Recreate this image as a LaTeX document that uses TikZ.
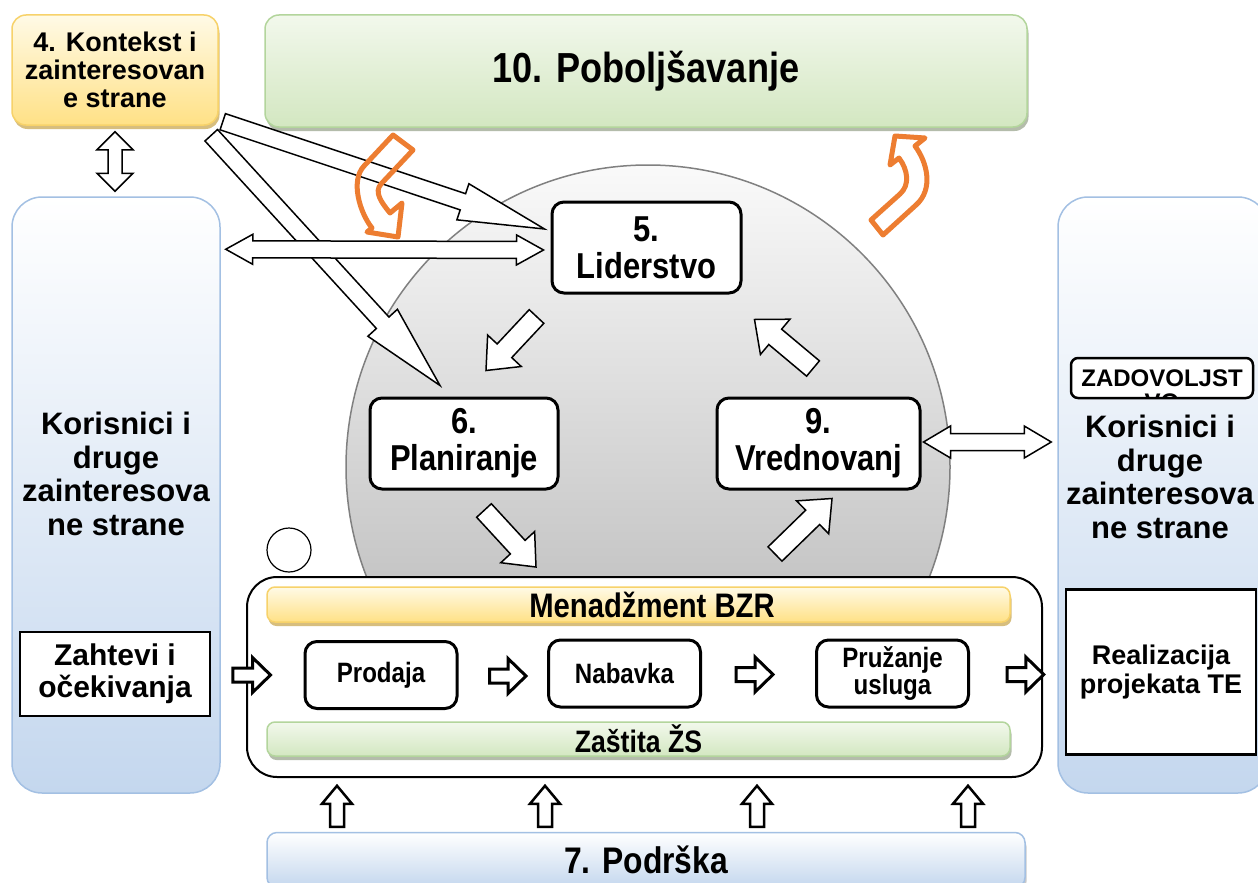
\documentclass[tikz,border=0pt]{standalone}
\usepackage{fontspec}
\setmainfont{Liberation Sans}
\newfontfamily\condfont[FakeStretch=0.86]{Liberation Sans}
\usepackage{xcolor}
\usepackage{tikz}
\usetikzlibrary{positioning,calc,shadows}

\definecolor{ylwtop}{HTML}{FFFAE6}
\definecolor{ylwbot}{HTML}{FFE186}
\definecolor{ylwline}{HTML}{F7D26A}
\definecolor{ylwshadow}{HTML}{CDAE5E}
\definecolor{grntop}{HTML}{F2F8EC}
\definecolor{grnbot}{HTML}{D3E7C1}
\definecolor{grnline}{HTML}{B3D59C}
\definecolor{grnshadow}{HTML}{A2AC96}
\definecolor{blutop}{HTML}{FFFFFF}
\definecolor{blubot}{HTML}{C4D7EE}
\definecolor{bluline}{HTML}{A3C0E3}
\definecolor{swirlorange}{HTML}{ED7D31}

% hollow block arrow: from, to, half shaft, half head, head length
\newcommand{\blockarrow}[6][]{%
  \coordinate (ba-h) at ($(#3)!#6!(#2)$);
  \draw[hollow,#1] ($(#2)!#4!90:(#3)$) -- ($(ba-h)!#4!-90:(#2)$)
    -- ($(ba-h)!#5!-90:(#2)$) -- (#3) -- ($(ba-h)!#5!90:(#2)$)
    -- ($(ba-h)!#4!90:(#2)$) -- ($(#2)!#4!-90:(#3)$) -- cycle;}
% hollow block arrow with two heads
\newcommand{\dblockarrow}[6][]{%
  \coordinate (ba-a) at ($(#2)!#6!(#3)$);
  \coordinate (ba-b) at ($(#3)!#6!(#2)$);
  \draw[hollow,#1] (#2) -- ($(ba-a)!#5!90:(#3)$) -- ($(ba-a)!#4!90:(#3)$)
    -- ($(ba-b)!#4!-90:(#2)$) -- ($(ba-b)!#5!-90:(#2)$) -- (#3)
    -- ($(ba-b)!#5!90:(#2)$) -- ($(ba-b)!#4!90:(#2)$)
    -- ($(ba-a)!#4!-90:(#3)$) -- ($(ba-a)!#5!-90:(#3)$) -- cycle;}

\begin{document}
\begin{tikzpicture}[x=1pt, y=-1pt,
  every node/.style={inner sep=0pt, align=center},
  gradbox/.style={draw, line width=1.5pt, rounded corners=14pt},
  ylwbox/.style={gradbox, draw=ylwline, top color=ylwtop, bottom color=ylwbot,
    drop shadow={shadow xshift=1.5pt, shadow yshift=-4pt, fill=ylwshadow, opacity=0.8}},
  grnbox/.style={gradbox, draw=grnline, top color=grntop, bottom color=grnbot,
    drop shadow={shadow xshift=1.5pt, shadow yshift=-4pt, fill=grnshadow, opacity=0.8}},
  blubox/.style={gradbox, draw=bluline, top color=blutop, bottom color=blubot},
  stepbox/.style={draw, line width=3pt, rounded corners=12pt, fill=white, minimum height=91pt,
    font=\condfont\bfseries\fontsize{36}{37}\selectfont},
  procbox/.style={draw, line width=3pt, rounded corners=12pt, fill=white, minimum width=152pt,
    minimum height=67pt, font=\condfont\bfseries\fontsize{28}{27}\selectfont},
  plainbox/.style={draw, fill=white},
  sidetext/.style={font=\bfseries\fontsize{31}{33.5}\selectfont},
  hollow/.style={draw, line width=1.5pt, fill=white},
  flow/.style={hollow, line width=3pt},
  swirl/.style={draw=swirlorange, line width=5pt, line join=round}
]
\fill[white] (0,0) rectangle (1258,883);
\useasboundingbox (0,0) rectangle (1258,883);

% Context and improvement
\node[ylwbox, minimum width=206pt, minimum height=110pt,
  font=\bfseries\fontsize{27}{28}\selectfont] (ctx) at (115,70) {4. Kontekst i\\zainteresovan\\e strane};
\node[grnbox, minimum width=762pt, minimum height=112pt,
  font=\condfont\bfseries\fontsize{42}{44}\selectfont] (pob) at (646,71) {10. Poboljšavanje};

% Interested parties, input and output
\node[blubox, rounded corners=30pt, minimum width=208pt, minimum height=596pt] (ulaz) at (116,495) {};
\node[blubox, rounded corners=30pt, minimum width=210pt, minimum height=596pt] (izlaz) at (1163,495) {};
\node[sidetext] (ulaztxt) at (116,474) {Korisnici i\\druge\\zainteresova\\ne strane};
\node[sidetext] (izlaztxt) at (1160,477) {Korisnici i\\druge\\zainteresova\\ne strane};
\node[plainbox, line width=1.5pt, minimum width=190pt, minimum height=84pt,
  font=\bfseries\fontsize{30}{32}\selectfont] (zah) at (115,674) {Zahtevi i\\očekivanja};
\node[plainbox, line width=2.5pt, minimum width=190pt, minimum height=165pt,
  font=\bfseries\fontsize{27}{29}\selectfont] (real) at (1161,672) {Realizacija\\projekata TE};

% Satisfaction label, text cut by its box
\node[plainbox, line width=2.5pt, rounded corners=7pt, minimum width=182pt, minimum height=40pt] (zad) at (1162,378) {};
\begin{scope}
  \clip ($(zad.south west)+(1.25,-1.25)$) rectangle ($(zad.north east)+(-1.25,1.25)$);
  \node[anchor=base, font=\bfseries\fontsize{24}{26}\selectfont] (zadtxt) at (1162,386) {ZADOVOLJST};
  \node[anchor=base, font=\bfseries\fontsize{24}{26}\selectfont] (zadvo) at (1162,410) {VO};
\end{scope}

% PDCA circle
\node[circle, draw=gray, line width=1.5pt, minimum size=604pt,
  top color=gray!4, bottom color=black!32] (krug) at (648,467) {};

% Steps
\node[stepbox, minimum width=189pt] (lid) at (646.5,247.5) {5.\\Liderstvo};
\node[stepbox, minimum width=188pt] (plan) at (464,443.5) {6.\\Planiranje};
\node[stepbox, minimum width=203pt] (vred) at (818.5,443.5) {9.\\Vrednovanj};

% Context arrows
\coordinate (ctxA) at ($(ctx.south east)+(4,-4)$);
\coordinate (lidA) at ($(lid.west)+(-6,-18.5)$);
\coordinate (ctxB) at ($(ctx.south east)+(-7.5,9.5)$);
\coordinate (planB) at ($(plan.north)+(-24,-11)$);
\coordinate (ctxV) at ($(ctx.south)+(0,6)$);
\coordinate (ulazV) at ($(ulaz.north)+(-1,-5)$);
\coordinate (ulazH) at ($(ulaz.north east)+(5,53)$);
\coordinate (lidH) at ($(lid.west)+(-7,2.5)$);
\blockarrow{ctxB}{planB}{8.5pt}{20pt}{85pt}
\blockarrow{ctxA}{lidA}{8.5pt}{19pt}{86pt}
\dblockarrow{ulazH}{lidH}{8.5pt}{15pt}{27pt}
\dblockarrow{ctxV}{ulazV}{7pt}{18pt}{18pt}

\coordinate (vredR) at ($(vred.east)+(2,-1.5)$);
\coordinate (izlazR) at ($(vredR -| izlaz.west)+(-6,0)$);
\dblockarrow{vredR}{izlazR}{8.5pt}{16pt}{27pt}

% Operation
\node[draw, line width=2pt, rounded corners=30pt, fill=white, minimum width=795pt,
  minimum height=200pt] (proc) at (644.5,677) {};
\node[circle, draw, line width=1.2pt, fill=white, minimum size=44pt] (mali) at (289,550) {};
\node[ylwbox, rounded corners=8pt, minimum width=743pt, minimum height=35pt] (bzr) at (638.5,604.5) {};
\node[font=\condfont\bfseries\fontsize{34}{36}\selectfont] (bzrtxt) at (652,605) {Menadžment BZR};
\node[grnbox, rounded corners=8pt, minimum width=743pt, minimum height=34pt,
  font=\condfont\bfseries\fontsize{31}{33}\selectfont] (zs) at (638.5,739) {Zaštita ŽS};
\node[procbox] (prod) at (381,675) {Prodaja};
\node[procbox] (nab) at (624.5,673.5) {Nabavka};
\node[procbox] (pru) at (892.5,673.5) {Pružanje\\usluga};

% Cycle arrows
\coordinate (c1) at ($(lid.south west)+(-14,22)$);
\coordinate (c2) at ($(plan.north)+(22,-26)$);
\coordinate (c3) at ($(vred.north)+(-5.5,-28)$);
\coordinate (c4) at ($(lid.south east)+(12,25)$);
\coordinate (c5) at ($(plan.south)+(20,20)$);
\coordinate (c6) at ($(proc.north)+(-108.5,-9)$);
\coordinate (c7) at ($(proc.north)+(130.5,-22)$);
\coordinate (c8) at ($(vred.south)+(13.5,8)$);
\blockarrow{c1}{c2}{10pt}{23pt}{27pt}
\blockarrow{c3}{c4}{10pt}{23pt}{27pt}
\blockarrow{c5}{c6}{10pt}{23pt}{27pt}
\blockarrow{c7}{c8}{10pt}{23pt}{27pt}

% Flow through operation
\foreach \a/\b/\sa/\sb in {zah/prod/22/-33, prod/nab/31/-21, nab/pru/34/-42, pru/real/37/-21} {
  \coordinate (fa) at ($(\a.east)+(\sa,1)$);
  \coordinate (fb) at ($(fa -| \b.west)+(\sb,0)$);
  \blockarrow[flow]{fa}{fb}{7pt}{17.5pt}{18pt}
}

% Support
\node[blubox, rounded corners=10pt, minimum width=758pt, minimum height=55pt,
  drop shadow={shadow xshift=1.5pt, shadow yshift=-4pt, fill=black!35, opacity=0.6},
  font=\condfont\bfseries\fontsize{37}{39}\selectfont] (pod) at (646,860) {7. Podrška};
\foreach \dx in {-309,-101,111,322} {
  \coordinate (ua) at ($(pod.north)+(\dx,-5)$);
  \coordinate (ub) at ($(pod.north)+(\dx,-46)$);
  \blockarrow[flow, line width=2.5pt]{ua}{ub}{7pt}{15pt}{18pt}
}

% Improvement swirls
\draw[swirl] (393,135) -- (413,150) -- (381,184) .. controls (374,192) and (381,202) .. (390,213)
  -- (402,203) -- (398,237) -- (367,232) -- (372,228) .. controls (360,213) and (350,181) .. (364,166) -- cycle;
\draw[swirl] (871,220) -- (883,235) -- (916,205) .. controls (934,189) and (927,162) .. (915,146)
  -- (925,138) -- (895,136) -- (890,165) -- (899,158) .. controls (908,170) and (910,185) .. (900,194) -- cycle;
\end{tikzpicture}
\end{document}
